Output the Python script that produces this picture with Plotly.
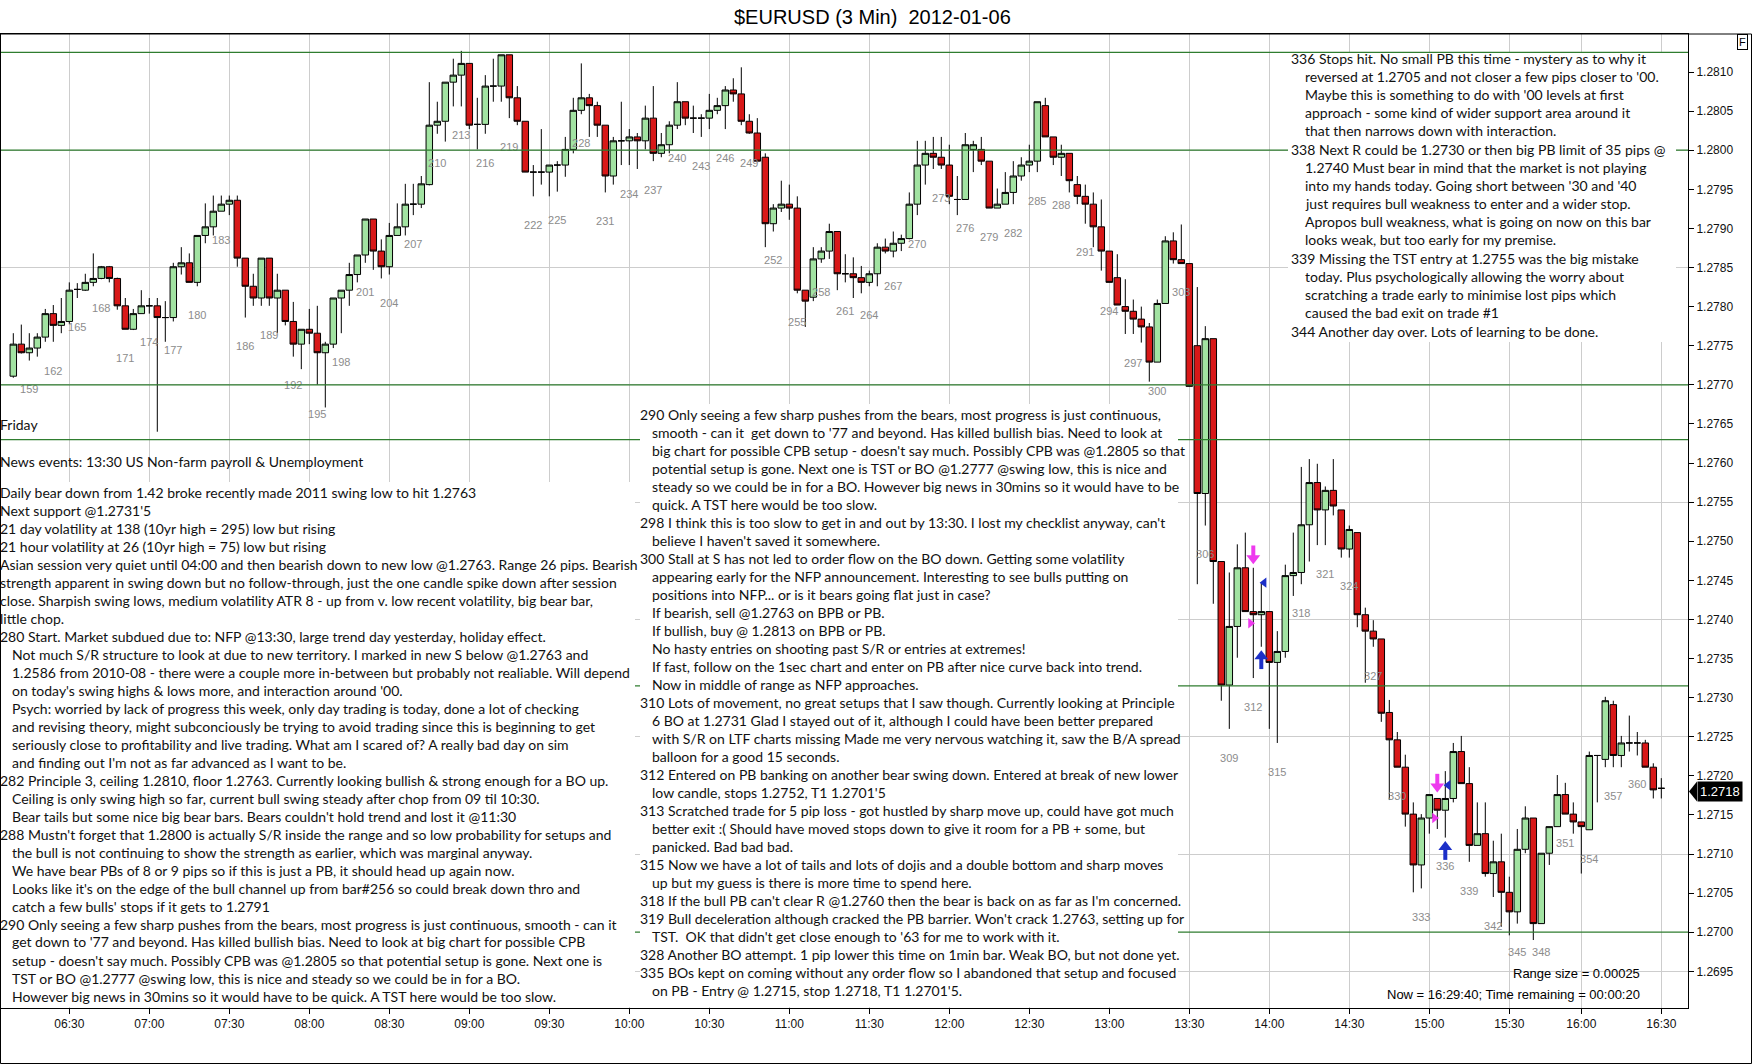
import pandas as pd
import plotly.graph_objects as go

W, H = 1752, 1064
ML, MR, MT, MB = 1, 64, 34, 56  # plot area in pixels: x 1..1688, y 34..1008


def px(x):
    return (x - ML) / (W - ML - MR)


def py(y):
    return (H - MB - y) / (H - MT - MB)


# ---- 3 min bars, bar #157 (06:09) to bar #363 (16:30) ----
opens = [
    1.27711, 1.27752, 1.27741, 1.27747, 1.27761, 1.27791, 1.27776, 1.27781, 1.27822, 1.27821,
    1.27831, 1.27836, 1.27851, 1.27836, 1.27801, 1.27771, 1.27791, 1.27801, 1.27801, 1.27786,
    1.27786, 1.27851, 1.27856, 1.27831, 1.27891, 1.27902, 1.27922, 1.27931, 1.27936, 1.27862,
    1.27826, 1.27811, 1.27862, 1.27811, 1.27821, 1.27781, 1.27752, 1.27771, 1.27766, 1.27741,
    1.27752, 1.27811, 1.27821, 1.27841, 1.27866, 1.27912, 1.27871, 1.27851, 1.27891, 1.27902,
    1.27931, 1.27931, 1.27956, 1.28032, 1.28037, 1.28087, 1.28096, 1.28111, 1.28033, 1.28033,
    1.28082, 1.28082, 1.28122, 1.28067, 1.28037, 1.27972, 1.27972, 1.27972, 1.27981, 1.27981,
    1.28001, 1.28051, 1.28067, 1.28057, 1.28032, 1.27967, 1.28012, 1.28012, 1.28017, 1.28012,
    1.28041, 1.27996, 1.28007, 1.28032, 1.28062, 1.28041, 1.28041, 1.28041, 1.28051, 1.28057,
    1.28077, 1.28072, 1.28037, 1.28022, 1.27991, 1.27906, 1.27926, 1.27931, 1.27926, 1.27821,
    1.27812, 1.27861, 1.27871, 1.27896, 1.27842, 1.27842, 1.27837, 1.27831, 1.27842, 1.27876,
    1.27871, 1.27881, 1.27887, 1.27931, 1.27981, 1.27996, 1.27991, 1.27981, 1.27937, 1.27937,
    1.28001, 1.28001, 1.27986, 1.27926, 1.27931, 1.27946, 1.27967, 1.27981, 1.27986, 1.28057,
    1.28017, 1.27991, 1.27996, 1.27956, 1.27941, 1.27931, 1.27902, 1.27871, 1.27837, 1.27800,
    1.27794, 1.27784, 1.27774, 1.27729, 1.27804, 1.27884, 1.27860, 1.27855, 1.27750, 1.27561,
    1.27759, 1.27474, 1.27316, 1.27391, 1.27466, 1.27410, 1.27406, 1.27410, 1.27345, 1.27359,
    1.27456, 1.27460, 1.27521, 1.27575, 1.27540, 1.27565, 1.27540, 1.27490, 1.27511, 1.27406,
    1.27385, 1.27375, 1.27281, 1.27246, 1.27211, 1.27151, 1.27086, 1.27146, 1.27171, 1.27156,
    1.27171, 1.27231, 1.27190, 1.27111, 1.27126, 1.27075, 1.27090, 1.27051, 1.27026, 1.27106,
    1.27146, 1.27011, 1.27101, 1.27135, 1.27176, 1.27151, 1.27141, 1.27131, 1.27226, 1.27221,
    1.27291, 1.27226, 1.27242, 1.27242, 1.27242, 1.27211, 1.27184,
]
highs = [
    1.27766, 1.27777, 1.27766, 1.27766, 1.27797, 1.27802, 1.27811, 1.27831, 1.27830, 1.27842,
    1.27868, 1.27852, 1.27852, 1.27837, 1.27811, 1.27797, 1.27821, 1.27811, 1.27811, 1.27807,
    1.27856, 1.27876, 1.27868, 1.27891, 1.27932, 1.27942, 1.27942, 1.27942, 1.27942, 1.27862,
    1.27842, 1.27862, 1.27862, 1.27842, 1.27821, 1.27806, 1.27771, 1.27797, 1.27801, 1.27755,
    1.27811, 1.27821, 1.27856, 1.27866, 1.27912, 1.27912, 1.27886, 1.27907, 1.27932, 1.27957,
    1.27957, 1.27967, 1.28087, 1.28062, 1.28087, 1.28117, 1.28127, 1.28111, 1.28067, 1.28096,
    1.28117, 1.28122, 1.28122, 1.28082, 1.28037, 1.27981, 1.28027, 1.27981, 1.27986, 1.28017,
    1.28067, 1.28111, 1.28072, 1.28062, 1.28032, 1.28017, 1.28062, 1.28027, 1.28022, 1.28057,
    1.28082, 1.28022, 1.28037, 1.28087, 1.28062, 1.28057, 1.28046, 1.28072, 1.28067, 1.28082,
    1.28092, 1.28106, 1.28046, 1.28041, 1.27996, 1.27931, 1.27961, 1.27956, 1.27941, 1.27821,
    1.27876, 1.27876, 1.27906, 1.27896, 1.27867, 1.27863, 1.27852, 1.27846, 1.27881, 1.27887,
    1.27896, 1.27892, 1.27946, 1.28012, 1.28012, 1.28017, 1.28017, 1.28007, 1.27967, 1.28022,
    1.28012, 1.28017, 1.27986, 1.27951, 1.27972, 1.27986, 1.27991, 1.28007, 1.28062, 1.28067,
    1.28017, 1.28007, 1.27996, 1.27967, 1.27956, 1.27946, 1.27937, 1.27871, 1.27867, 1.27835,
    1.27809, 1.27800, 1.27779, 1.27809, 1.27890, 1.27895, 1.27905, 1.27855, 1.27825, 1.27775,
    1.27759, 1.27474, 1.27460, 1.27496, 1.27511, 1.27466, 1.27447, 1.27410, 1.27385, 1.27470,
    1.27511, 1.27595, 1.27605, 1.27599, 1.27570, 1.27605, 1.27540, 1.27520, 1.27511, 1.27415,
    1.27399, 1.27375, 1.27297, 1.27256, 1.27227, 1.27166, 1.27151, 1.27176, 1.27171, 1.27206,
    1.27242, 1.27251, 1.27211, 1.27166, 1.27166, 1.27117, 1.27126, 1.27071, 1.27132, 1.27161,
    1.27146, 1.27101, 1.27135, 1.27201, 1.27191, 1.27166, 1.27141, 1.27231, 1.27226, 1.27301,
    1.27296, 1.27251, 1.27277, 1.27256, 1.27246, 1.27216, 1.27197,
]
lows = [
    1.27709, 1.27740, 1.27731, 1.27736, 1.27755, 1.27755, 1.27766, 1.27778, 1.27811, 1.27820,
    1.27826, 1.27835, 1.27831, 1.27796, 1.27771, 1.27770, 1.27791, 1.27791, 1.27640, 1.27755,
    1.27781, 1.27841, 1.27831, 1.27826, 1.27881, 1.27891, 1.27922, 1.27917, 1.27851, 1.27786,
    1.27801, 1.27801, 1.27801, 1.27766, 1.27776, 1.27736, 1.27720, 1.27752, 1.27700, 1.27671,
    1.27747, 1.27766, 1.27801, 1.27831, 1.27856, 1.27847, 1.27836, 1.27841, 1.27891, 1.27891,
    1.27917, 1.27926, 1.27955, 1.28021, 1.28011, 1.28056, 1.28056, 1.28027, 1.28001, 1.28021,
    1.28062, 1.28062, 1.28041, 1.28032, 1.27972, 1.27941, 1.27956, 1.27941, 1.27947, 1.27966,
    1.27996, 1.28046, 1.28017, 1.28017, 1.27946, 1.27956, 1.27981, 1.27981, 1.27976, 1.28001,
    1.27986, 1.27991, 1.27996, 1.28027, 1.28032, 1.28022, 1.28017, 1.28027, 1.28046, 1.28027,
    1.28062, 1.28032, 1.28021, 1.27986, 1.27876, 1.27896, 1.27921, 1.27911, 1.27817, 1.27774,
    1.27807, 1.27856, 1.27861, 1.27821, 1.27831, 1.27811, 1.27817, 1.27826, 1.27826, 1.27868,
    1.27863, 1.27871, 1.27886, 1.27917, 1.27956, 1.27976, 1.27976, 1.27931, 1.27917, 1.27937,
    1.27972, 1.27981, 1.27926, 1.27926, 1.27931, 1.27931, 1.27961, 1.27972, 1.27972, 1.28017,
    1.27981, 1.27967, 1.27946, 1.27931, 1.27906, 1.27876, 1.27846, 1.27831, 1.27802, 1.27765,
    1.27765, 1.27754, 1.27704, 1.27729, 1.27804, 1.27855, 1.27855, 1.27698, 1.27445, 1.27520,
    1.27420, 1.27296, 1.27260, 1.27351, 1.27410, 1.27325, 1.27365, 1.27260, 1.27242, 1.27351,
    1.27430, 1.27445, 1.27474, 1.27495, 1.27495, 1.27533, 1.27479, 1.27479, 1.27390, 1.27319,
    1.27365, 1.27269, 1.27169, 1.27211, 1.27135, 1.27051, 1.27056, 1.27126, 1.27132, 1.27121,
    1.27166, 1.27190, 1.27090, 1.27111, 1.27071, 1.27045, 1.27007, 1.26996, 1.27011, 1.27101,
    1.26990, 1.27011, 1.27086, 1.27135, 1.27151, 1.27126, 1.27075, 1.27131, 1.27166, 1.27211,
    1.27211, 1.27211, 1.27231, 1.27226, 1.27211, 1.27171, 1.27171,
]
closes = [
    1.27752, 1.27741, 1.27747, 1.27761, 1.27791, 1.27776, 1.27781, 1.27821, 1.27822, 1.27831,
    1.27836, 1.27851, 1.27836, 1.27801, 1.27771, 1.27791, 1.27801, 1.27801, 1.27786, 1.27786,
    1.27851, 1.27856, 1.27831, 1.27891, 1.27902, 1.27922, 1.27931, 1.27936, 1.27862, 1.27826,
    1.27811, 1.27862, 1.27811, 1.27821, 1.27781, 1.27752, 1.27771, 1.27766, 1.27741, 1.27752,
    1.27811, 1.27821, 1.27841, 1.27866, 1.27912, 1.27871, 1.27851, 1.27891, 1.27902, 1.27931,
    1.27931, 1.27957, 1.28032, 1.28037, 1.28087, 1.28096, 1.28111, 1.28032, 1.28033, 1.28082,
    1.28082, 1.28122, 1.28067, 1.28037, 1.27972, 1.27972, 1.27972, 1.27981, 1.27981, 1.28001,
    1.28051, 1.28067, 1.28057, 1.28032, 1.27967, 1.28012, 1.28012, 1.28017, 1.28012, 1.28041,
    1.27996, 1.28007, 1.28032, 1.28062, 1.28041, 1.28041, 1.28041, 1.28051, 1.28057, 1.28077,
    1.28072, 1.28037, 1.28022, 1.27986, 1.27906, 1.27926, 1.27931, 1.27926, 1.27821, 1.27807,
    1.27861, 1.27871, 1.27896, 1.27842, 1.27842, 1.27837, 1.27831, 1.27842, 1.27876, 1.27871,
    1.27881, 1.27887, 1.27931, 1.27981, 1.27996, 1.27991, 1.27981, 1.27941, 1.27937, 1.28007,
    1.28007, 1.27986, 1.27926, 1.27931, 1.27946, 1.27967, 1.27981, 1.27986, 1.28062, 1.28017,
    1.27991, 1.27996, 1.27961, 1.27941, 1.27931, 1.27902, 1.27871, 1.27831, 1.27802, 1.27794,
    1.27784, 1.27774, 1.27729, 1.27804, 1.27884, 1.27860, 1.27855, 1.27698, 1.27561, 1.27759,
    1.27474, 1.27316, 1.27391, 1.27466, 1.27410, 1.27406, 1.27410, 1.27345, 1.27359, 1.27456,
    1.27460, 1.27521, 1.27575, 1.27540, 1.27565, 1.27545, 1.27490, 1.27515, 1.27406, 1.27385,
    1.27375, 1.27280, 1.27246, 1.27211, 1.27151, 1.27086, 1.27146, 1.27176, 1.27156, 1.27171,
    1.27231, 1.27190, 1.27111, 1.27126, 1.27075, 1.27090, 1.27051, 1.27026, 1.27106, 1.27146,
    1.27011, 1.27101, 1.27135, 1.27176, 1.27151, 1.27141, 1.27135, 1.27226, 1.27226, 1.27296,
    1.27226, 1.27242, 1.27242, 1.27242, 1.27211, 1.27182, 1.27184,
]
first_bar = 157
# bar close times; the feed skipped one 3 min slot (15:45), so the axis is bar indexed
session_a = pd.date_range("2012-01-06 06:09", "2012-01-06 15:42", freq="3min")
session_b = pd.date_range("2012-01-06 15:48", "2012-01-06 16:30", freq="3min")

# support / resistance lines drawn on the chart
sr_levels = [1.28125, 1.2800, 1.2770, 1.2763, 1.27315, 1.2700]

# trade markers: (bar number, price)
sell_arrows = [(312, 1.27482), (335, 1.27190)]
buy_arrows = [(313, 1.27349), (336, 1.27105)]
entry_marks = [(312, 1.27395), (335, 1.27146)]
exit_marks = [(313, 1.27447), (336, 1.27188)]

last_price = 1.2718

left_notes = [
    "Daily bear down from 1.42 broke recently made 2011 swing low to hit 1.2763",
    "Next support @1.2731'5",
    "21 day volatility at 138 (10yr high = 295) low but rising",
    "21 hour volatility at 26 (10yr high = 75) low but rising",
    "Asian session very quiet until 04:00 and then bearish down to new low @1.2763. Range 26 pips. Bearish",
    "strength apparent in swing down but no follow-through, just the one candle spike down after session",
    "close. Sharpish swing lows, medium volatility ATR 8 - up from v. low recent volatility, big bear bar,",
    "little chop.",
    "280 Start. Market subdued due to: NFP @13:30, large trend day yesterday, holiday effect.",
    " Not much S/R structure to look at due to new territory. I marked in new S below @1.2763 and",
    " 1.2586 from 2010-08 - there were a couple more in-between but probably not realiable. Will depend",
    " on today's swing highs & lows more, and interaction around '00.",
    " Psych: worried by lack of progress this week, only day trading is today, done a lot of checking",
    " and revising theory, might subconciously be trying to avoid trading since this is beginning to get",
    " seriously close to profitability and live trading. What am I scared of? A really bad day on sim",
    " and finding out I'm not as far advanced as I want to be.",
    "282 Principle 3, ceiling 1.2810, floor 1.2763. Currently looking bullish & strong enough for a BO up.",
    " Ceiling is only swing high so far, current bull swing steady after chop from 09 til 10:30.",
    " Bear tails but some nice big bear bars. Bears couldn't hold trend and lost it @11:30",
    "288 Mustn't forget that 1.2800 is actually S/R inside the range and so low probability for setups and",
    " the bull is not continuing to show the strength as earlier, which was marginal anyway.",
    " We have bear PBs of 8 or 9 pips so if this is just a PB, it should head up again now.",
    " Looks like it's on the edge of the bull channel up from bar#256 so could break down thro and",
    " catch a few bulls' stops if it gets to 1.2791",
    "290 Only seeing a few sharp pushes from the bears, most progress is just continuous, smooth - can it",
    " get down to '77 and beyond. Has killed bullish bias. Need to look at big chart for possible CPB",
    " setup - doesn't say much. Possibly CPB was @1.2805 so that potential setup is gone. Next one is",
    " TST or BO @1.2777 @swing low, this is nice and steady so we could be in for a BO.",
    " However big news in 30mins so it would have to be quick. A TST here would be too slow.",
]

mid_notes = [
    "290 Only seeing a few sharp pushes from the bears, most progress is just continuous,",
    " smooth - can it  get down to '77 and beyond. Has killed bullish bias. Need to look at",
    " big chart for possible CPB setup - doesn't say much. Possibly CPB was @1.2805 so that",
    " potential setup is gone. Next one is TST or BO @1.2777 @swing low, this is nice and",
    " steady so we could be in for a BO. However big news in 30mins so it would have to be",
    " quick. A TST here would be too slow.",
    "298 I think this is too slow to get in and out by 13:30. I lost my checklist anyway, can't",
    " believe I haven't saved it somewhere.",
    "300 Stall at S has not led to order flow on the BO down. Getting some volatility",
    " appearing early for the NFP announcement. Interesting to see bulls putting on",
    " positions into NFP... or is it bears going flat just in case?",
    " If bearish, sell @1.2763 on BPB or PB.",
    " If bullish, buy @ 1.2813 on BPB or PB.",
    " No hasty entries on shooting past S/R or entries at extremes!",
    " If fast, follow on the 1sec chart and enter on PB after nice curve back into trend.",
    " Now in middle of range as NFP approaches.",
    "310 Lots of movement, no great setups that I saw though. Currently looking at Principle",
    " 6 BO at 1.2731 Glad I stayed out of it, although I could have been better prepared",
    " with S/R on LTF charts missing Made me very nervous watching it, saw the B/A spread",
    " balloon for a good 15 seconds.",
    "312 Entered on PB banking on another bear swing down. Entered at break of new lower",
    " low candle, stops 1.2752, T1 1.2701'5",
    "313 Scratched trade for 5 pip loss - got hustled by sharp move up, could have got much",
    " better exit :( Should have moved stops down to give it room for a PB + some, but",
    " panicked. Bad bad bad.",
    "315 Now we have a lot of tails and lots of dojis and a double bottom and sharp moves",
    " up but my guess is there is more time to spend here.",
    "318 If the bull PB can't clear R @1.2760 then the bear is back on as far as I'm concerned.",
    "319 Bull deceleration although cracked the PB barrier. Won't crack 1.2763, setting up for",
    " TST.  OK that didn't get close enough to '63 for me to work with it.",
    "328 Another BO attempt. 1 pip lower this time on 1min bar. Weak BO, but not done yet.",
    "335 BOs kept on coming without any order flow so I abandoned that setup and focused",
    " on PB - Entry @ 1.2715, stop 1.2718, T1 1.2701'5.",
]

right_notes = [
    "336 Stops hit. No small PB this time - mystery as to why it",
    " reversed at 1.2705 and not closer a few pips closer to '00.",
    " Maybe this is something to do with '00 levels at first",
    " approach - some kind of wider support area around it",
    " that then narrows down with interaction.",
    "338 Next R could be 1.2730 or then big PB limit of 35 pips @",
    " 1.2740 Must bear in mind that the market is not playing",
    " into my hands today. Going short between '30 and '40",
    " just requires bull weakness to enter and a wider stop.",
    " Apropos bull weakness, what is going on now on this bar",
    " looks weak, but too early for my premise.",
    "339 Missing the TST entry at 1.2755 was the big mistake",
    " today. Plus psychologically allowing the worry about",
    " scratching a trade early to minimise lost pips which",
    " caused the bad exit on trade #1",
    "344 Another day over. Lots of learning to be done.",
]

bar_times = list(session_a) + list(session_b)
bar_numbers = list(range(first_bar, first_bar + len(opens)))

# time axis labels sit on the bars closing at :00 and :30
tick_bars = [n for n, t in zip(bar_numbers, bar_times) if t.minute in (0, 30) and t.hour >= 6]
tick_text = [t.strftime("%H:%M") for t in bar_times if t.minute in (0, 30) and t.hour >= 6]

GREEN = "#a2e3a2"
RED = "#d81818"
SR_GREEN = "#2f7d2f"
GRID = "#cdcdcd"
MAGENTA = "#ee3aee"
BLUE = "#1c2fc8"
NOTE_FONT = dict(family="Lato", size=14, color="#111111")
AXIS_FONT = dict(family="Liberation Sans", size=12, color="#111111")
pip_px = 78200.0  # pixels per 1.0 of price

fig = go.Figure()

fig.add_trace(go.Candlestick(
    x=bar_numbers, open=opens, high=highs, low=lows, close=closes,
    increasing=dict(fillcolor=GREEN, line=dict(color="black", width=1)),
    decreasing=dict(fillcolor=RED, line=dict(color="black", width=1)),
    whiskerwidth=0, hoverinfo="skip", showlegend=False,
))

# bar numbers, every third bar, 30 px under the low
label_bars = [n for n in bar_numbers if (n - 159) % 3 == 0 and n <= 360]
fig.add_trace(go.Scatter(
    x=label_bars,
    y=[lows[n - first_bar] - 30 / pip_px for n in label_bars],
    mode="text", text=[str(n) for n in label_bars],
    textfont=dict(family="Liberation Sans", size=11, color="#8c8c8c"),
    hoverinfo="skip", showlegend=False,
))


def block_arrow(marks, color, down):
    # shaft + head, about 15 px tall
    sign = 1 if down else -1
    fig.add_trace(go.Scatter(
        x=[b for b, _ in marks], y=[p + sign * 3.5 / pip_px for _, p in marks],
        mode="markers", marker=dict(symbol="line-ns", size=9, line=dict(color=color, width=4)),
        hoverinfo="skip", showlegend=False,
    ))
    fig.add_trace(go.Scatter(
        x=[b for b, _ in marks], y=[p - sign * 3 / pip_px for _, p in marks],
        mode="markers",
        marker=dict(symbol="triangle-down" if down else "triangle-up", size=12,
                    color=color, line=dict(width=0)),
        hoverinfo="skip", showlegend=False,
    ))


block_arrow(sell_arrows, MAGENTA, True)
block_arrow(buy_arrows, BLUE, False)
for marks, symbol, color, dx in [(entry_marks, "triangle-right", MAGENTA, -0.35),
                                 (exit_marks, "triangle-left", BLUE, 0.35)]:
    fig.add_trace(go.Scatter(
        x=[b + dx for b, _ in marks], y=[p for _, p in marks],
        mode="markers", marker=dict(symbol=symbol, color=color, size=9, line=dict(width=0)),
        hoverinfo="skip", showlegend=False,
    ))

# helper trace for the grid axis
fig.add_trace(go.Scatter(x=[bar_numbers[0]], y=[closes[0]], yaxis="y2", mode="markers",
                         marker=dict(opacity=0), hoverinfo="skip", showlegend=False))

shapes = []
for lvl in sr_levels:
    shapes.append(dict(type="line", xref="paper", yref="y", x0=0, x1=1, y0=lvl, y1=lvl,
                       line=dict(color=SR_GREEN, width=1.2), layer="above"))

# white note panels (hide grid and lines behind the text)
for x0, x1, y0, y1 in [(0, 635, 482, 1007), (640, 1178, 404, 1007), (1288, 1676, 53, 342)]:
    shapes.append(dict(type="rect", xref="paper", yref="paper",
                       x0=px(x0), x1=px(x1), y0=py(y1), y1=py(y0),
                       fillcolor="white", line=dict(width=0), layer="above"))

# last price pointer
shapes.append(dict(type="path", xref="paper", yref="y", fillcolor="black", line=dict(width=0),
                   path=f"M {px(1689)},{last_price} L {px(1697)},{last_price + 10 / pip_px} "
                        f"L {px(1697)},{last_price - 10 / pip_px} Z", layer="above"))
# outer frame
shapes.append(dict(type="rect", xref="paper", yref="paper",
                   x0=px(0.5), x1=px(1751.5), y0=py(1063.5), y1=py(34),
                   line=dict(color="black", width=1), layer="above"))

annotations = []


def add_notes(lines, x0, y0, step, indent):
    for i, line in enumerate(lines):
        annotations.append(dict(
            xref="paper", yref="paper", x=px(x0), y=py(y0 + i * step),
            xanchor="left", yanchor="middle", showarrow=False,
            text=line.strip(), xshift=indent if line.startswith(" ") else 0,
            font=NOTE_FONT, borderpad=0,
        ))


add_notes(["Friday"], -1, 424, 18, 0)
add_notes(["News events: 13:30 US Non-farm payroll & Unemployment"], -1, 461, 18, 0)
add_notes(left_notes, -1, 492, 18, 12)
add_notes(mid_notes, 639, 414, 18, 12)
add_notes(right_notes, 1290, 58, 18.2, 14)

for text, ypix in [("Range size = 0.00025", 973), ("Now = 16:29:40; Time remaining = 00:00:20", 994)]:
    annotations.append(dict(xref="paper", yref="paper", x=px(1641), y=py(ypix), xanchor="right",
                            yanchor="middle", showarrow=False, text=text, borderpad=0,
                            font=dict(family="Liberation Sans", size=13, color="black")))

annotations.append(dict(xref="paper", yref="paper", x=px(872), y=py(17), xanchor="center",
                        yanchor="middle", showarrow=False, text="$EURUSD (3 Min)  2012-01-06",
                        font=dict(family="Liberation Sans", size=20, color="black")))
annotations.append(dict(xref="paper", yref="y", x=px(1697), y=last_price, xanchor="left",
                        yanchor="middle", showarrow=False, text=f"{last_price:.4f}",
                        bgcolor="black", borderpad=2,
                        font=dict(family="Liberation Sans", size=13, color="white")))
annotations.append(dict(xref="paper", yref="paper", x=px(1742), y=py(42), xanchor="center",
                        yanchor="middle", showarrow=False, text="F", bgcolor="white",
                        bordercolor="black", borderwidth=1, borderpad=1,
                        font=dict(family="Liberation Sans", size=11, color="black")))

y_range = [1.2810 - (1008 - 72) / pip_px, 1.2810 + (72 - 34) / pip_px]
# bar 157 sits at x=13.3 px, 8 px per bar
x_range = [first_bar - (13.3 - ML) / 8, first_bar + (1688 - 13.3) / 8]

fig.update_layout(
    width=W, height=H,
    margin=dict(l=ML, r=MR, t=MT, b=MB),
    paper_bgcolor="white", plot_bgcolor="white",
    showlegend=False, boxgap=0.1, boxgroupgap=0.1,
    shapes=shapes, annotations=annotations,
    xaxis=dict(
        range=x_range, tickmode="array", tickvals=tick_bars, ticktext=tick_text,
        showgrid=True, gridcolor=GRID, gridwidth=1, zeroline=False,
        ticks="outside", ticklen=5, tickcolor="black",
        showline=True, linecolor="black", linewidth=1, mirror=True,
        tickfont=AXIS_FONT, rangeslider=dict(visible=False),
    ),
    yaxis=dict(
        side="right", range=y_range, tick0=1.2695, dtick=0.0005, tickformat=".4f",
        showgrid=False, zeroline=False, ticks="outside", ticklen=5, tickcolor="black",
        showline=True, linecolor="black", linewidth=1, mirror=True, tickfont=AXIS_FONT,
    ),
    yaxis2=dict(
        overlaying="y", side="right", range=y_range, tick0=1.2695, dtick=0.0015,
        showgrid=True, gridcolor=GRID, gridwidth=1, zeroline=False,
        showticklabels=False, ticks="", showline=False,
    ),
)

fig.write_html("out.html", config={"displayModeBar": False},
               post_script="document.body.style.margin='0';")
